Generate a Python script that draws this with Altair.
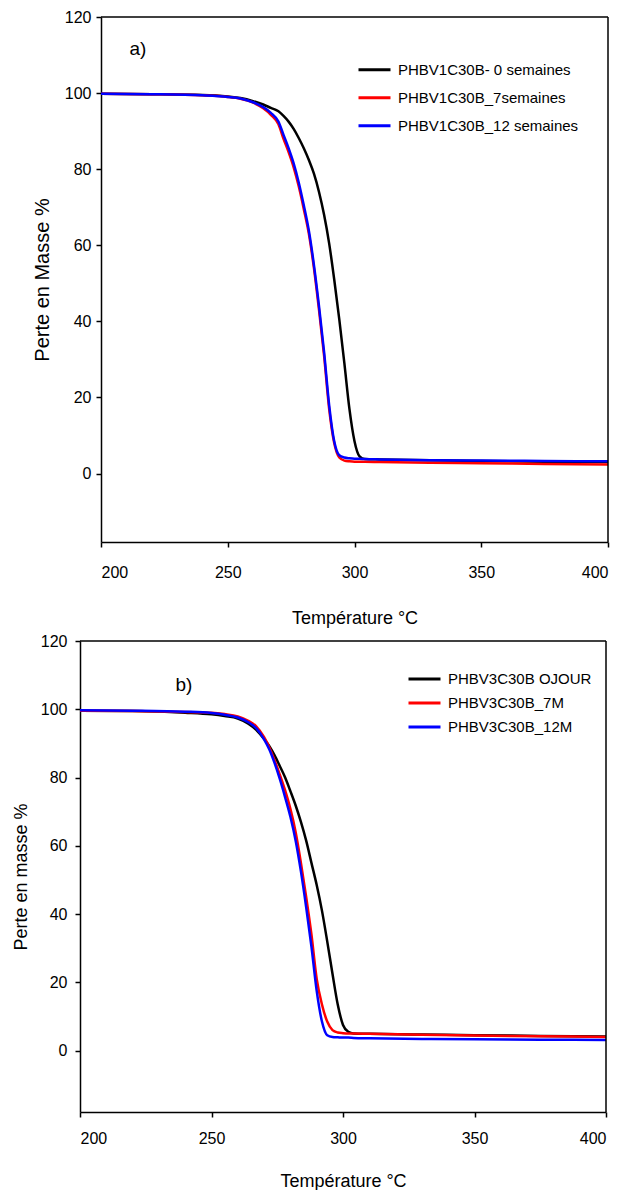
import altair as alt
import pandas as pd

# ---------------- data ----------------
temps = [200, 220, 240, 250, 255, 260, 264, 267, 270, 272, 274, 276, 278, 280, 282,
         284, 286, 288, 290, 292, 294, 296, 298, 300, 302, 304, 310, 330, 350, 375, 400]

a_0sem = [99.8, 99.7, 99.5, 99.1, 98.7, 97.9, 97.0, 96.1, 95.2, 94.0, 92.5, 90.6, 88.2, 85.5, 82.4,
          78.8, 74.0, 68.0, 60.5, 51.0, 40.5, 29.0, 17.0, 8.5, 4.5, 3.8, 3.7, 3.5, 3.3, 3.1, 3.0]
a_7sem = [99.8, 99.7, 99.4, 99.0, 98.5, 97.5, 96.0, 94.3, 91.8, 88.0, 84.5, 80.5, 75.5, 69.5, 63.0,
          54.0, 43.0, 31.0, 17.0, 8.0, 4.2, 3.4, 3.2, 3.1, 3.1, 3.1, 3.0, 2.8, 2.7, 2.5, 2.4]
a_12sem = [99.8, 99.7, 99.4, 99.0, 98.6, 97.6, 96.3, 94.8, 92.5, 89.0, 85.5, 81.5, 76.5, 70.5, 63.8,
           54.8, 44.0, 32.0, 18.0, 8.5, 4.8, 4.2, 4.0, 3.9, 3.9, 3.8, 3.7, 3.5, 3.4, 3.3, 3.2]

b_ojour = [99.6, 99.5, 99.0, 98.5, 98.0, 97.3, 95.8, 94.0, 91.3, 89.2, 86.5, 83.3, 80.0, 76.0, 71.8,
           67.0, 61.5, 55.0, 48.5, 41.0, 32.0, 22.5, 13.5, 7.5, 5.5, 5.0, 4.9, 4.7, 4.5, 4.3, 4.1]
b_7m = [99.6, 99.5, 99.2, 99.0, 98.6, 97.9, 96.6, 95.0, 91.8, 88.8, 85.0, 80.8, 76.2, 70.8, 64.0,
        55.0, 45.0, 34.0, 21.0, 13.5, 8.5, 6.0, 5.3, 5.1, 5.0, 5.0, 4.9, 4.6, 4.4, 4.2, 4.0]
b_12m = [99.7, 99.6, 99.3, 98.9, 98.4, 97.6, 96.2, 94.5, 91.2, 88.2, 84.2, 79.5, 74.2, 68.5, 61.5,
         52.5, 42.0, 30.5, 17.5, 8.5, 4.5, 4.0, 3.9, 3.8, 3.8, 3.7, 3.6, 3.4, 3.3, 3.2, 3.1]

series_a = ["PHBV1C30B- 0 semaines", "PHBV1C30B_7semaines", "PHBV1C30B_12 semaines"]
series_b = ["PHBV3C30B OJOUR", "PHBV3C30B_7M", "PHBV3C30B_12M"]
colors = ["#000000", "#ff0000", "#0000ff"]

x_ticks = [200, 250, 300, 350, 400]
y_ticks = [0, 20, 40, 60, 80, 100, 120]
x_domain = [200, 400]
y_domain = [-18, 120]

panel_labels = ["a)", "b)"]
panel_label_T = [214.6, 239.5]
panel_label_v = [111.6, 107.0]

FONT = "Liberation Sans"


def long_df(names, cols):
    rows = []
    for i, (n, vals) in enumerate(zip(names, cols)):
        for t, v in zip(temps, vals):
            rows.append({"T": t, "v": v, "serie": n, "k": i})
    return pd.DataFrame(rows)


def panel(names, cols, idx, w, h, x_start, ytitle, ytitle_size, ytitle_pad, ylab_pad,
          xlab_pad, xtitle_pad, leg_x, leg_y, leg_clip):
    df = long_df(names, cols)
    xs = alt.Scale(domain=x_domain, nice=False, zero=False, range=[x_start, w])
    ys = alt.Scale(domain=y_domain, nice=False, zero=False)
    x = alt.X("T:Q", scale=xs,
              axis=alt.Axis(values=x_ticks, title="Température °C", format="d",
                            labelFont=FONT, labelFontSize=16, labelPadding=xlab_pad,
                            titleFont=FONT, titleFontSize=18, titleFontWeight="normal",
                            titlePadding=xtitle_pad, tickSize=5, grid=False))
    y = alt.Y("v:Q", scale=ys,
              axis=alt.Axis(values=y_ticks, title=ytitle, format="d", offset=-x_start,
                            labelFont=FONT, labelFontSize=16, labelPadding=ylab_pad,
                            titleFont=FONT, titleFontSize=ytitle_size, titleFontWeight="normal",
                            titlePadding=ytitle_pad, tickSize=5, grid=False))
    lines = alt.Chart(df).mark_line(strokeWidth=2.5, interpolate="monotone").encode(
        x=x, y=y,
        color=alt.Color("serie:N", scale=alt.Scale(domain=names, range=colors),
                        legend=alt.Legend(title=None, orient="none", legendX=leg_x, legendY=leg_y,
                                          symbolType="stroke", symbolSize=1024,
                                          symbolStrokeWidth=3, labelFont=FONT,
                                          labelFontSize=15, labelColor="black", labelLimit=0,
                                          rowPadding=0, clipHeight=leg_clip,
                                          padding=0, labelOffset=6)),
        order="k:Q",
    )
    # frame: top and right borders of the plotting rectangle
    top_df = pd.DataFrame({"T": [x_domain[0]], "T2": [x_domain[1]], "v": [y_domain[1]]})
    right_df = pd.DataFrame({"T": [x_domain[1]], "v": [y_domain[0]], "v2": [y_domain[1]]})
    top_rule = alt.Chart(top_df).mark_rule(color="black", strokeWidth=1.5).encode(
        x=alt.X("T:Q", scale=xs), x2="T2:Q", y=alt.Y("v:Q", scale=ys))
    right_rule = alt.Chart(right_df).mark_rule(color="black", strokeWidth=1.5).encode(
        x=alt.X("T:Q", scale=xs), y=alt.Y("v:Q", scale=ys), y2="v2:Q")
    lab_df = pd.DataFrame({"T": [panel_label_T[idx]], "v": [panel_label_v[idx]],
                           "txt": [panel_labels[idx]]})
    lab = alt.Chart(lab_df).mark_text(font=FONT, fontSize=19, color="black").encode(
        x=alt.X("T:Q", scale=xs), y=alt.Y("v:Q", scale=ys), text="txt:N")
    return alt.layer(lines, top_rule, right_rule, lab).properties(width=w, height=h)


pa = panel(series_a, [a_0sem, a_7sem, a_12sem], 0, 528, 525, 21, "Perte en Masse %", 20, 12, 5,
           17, 29, 277, 39, 27.5)
pb = panel(series_b, [b_ojour, b_7m, b_12m], 1, 526, 471, 0, "Perte en masse %", 18, 10, 8,
           13, 26, 327, 26, 23.75)

chart = alt.vconcat(pa, pb, spacing=6).resolve_scale(
    color="independent").properties(
    padding={"left": 12, "top": 9, "right": 0, "bottom": 0},
    background="white",
).configure_view(stroke=None).configure_axis(
    domainColor="black", tickColor="black", labelColor="black", titleColor="black",
    domainWidth=1.5, tickWidth=1.5,
)

chart.save("out.html", embed_options={"renderer": "svg", "actions": False})
